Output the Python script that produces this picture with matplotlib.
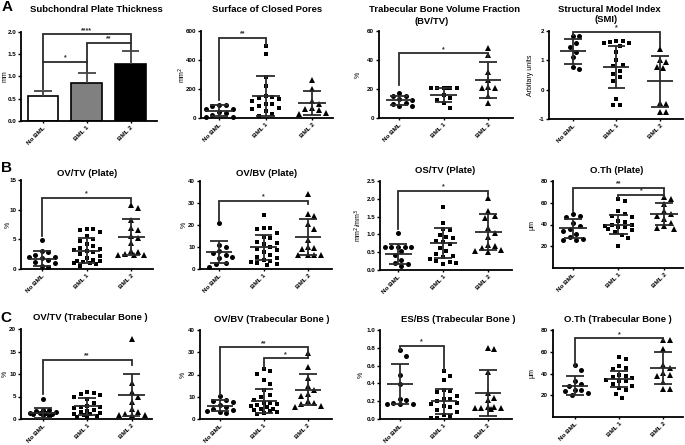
import numpy as np
import matplotlib.pyplot as plt

plt.rcParams['font.family'] = ['Liberation Sans', 'DejaVu Sans']

groups = ['No BML', 'BML 1', 'BML 2']

# A: subchondral plate thickness, bars (mean + SD)
thick_mean = [0.57, 0.85, 1.27]
thick_sd = [0.10, 0.22, 0.30]

# surface of closed pores (mm2)
pores_no = [90, 88, 85, 65, 60, 40, 35, 20, 10, 5]
pores_b1 = [495, 440, 280, 220, 150, 145, 140, 130, 120, 100, 95, 85, 70, 60, 45, 30, 15]
pores_b2 = [265, 200, 115, 100, 70, 60, 55, 35, 30]
pores_mean = [50, 152, 105]
pores_sd = [37, 139, 84]

# BV/TV (%)
bvtv_no = [17.5, 15.5, 15, 13, 12.5, 10.5, 9.5, 8, 8]
bvtv_b1 = [21, 21, 21, 21, 21, 20.5, 16, 14, 12.5, 10.5, 7]
bvtv_b2 = [48.5, 43.5, 31.5, 26, 21.5, 21, 20.5, 15, 10.5]
bvtv_mean = [12.2, 15.9, 26.3]
bvtv_sd = [3.3, 4.9, 12.6]

# SMI
smi_no = [1.82, 1.82, 1.6, 1.45, 1.3, 1.1, 0.78, 0.7]
smi_b1 = [1.66, 1.66, 1.62, 1.6, 1.58, 1.5, 1.3, 1.02, 0.85, 0.8, 0.65, 0.55, 0.42, 0.3,
          -0.33, -0.53, -0.53]
smi_b2 = [1.4, 1.0, 0.96, 0.78, 0.75, -0.45, -0.5, -0.75, -0.75]
smi_mean = [1.31, 0.78, 0.28]
smi_sd = [0.42, 0.71, 0.86]

# B: OV/TV plate
ovtv_p_no = [4.9, 3.0, 2.9, 2.1, 2.0, 1.8, 1.6, 1.2, 1.0, 0.5, 0.4, 2.4]
ovtv_p_b1 = [6.8, 6.7, 6.5, 6.2, 5.5, 5.0, 4.8, 4.2, 3.8, 3.5, 3.3, 3.2, 3.0, 2.8, 2.5,
             2.2, 1.8, 1.6, 1.4, 1.3, 1.2, 1.0, 1.0, 0.8, 0.5]
ovtv_p_b2 = [10.8, 10.3, 8.3, 6.9, 6.6, 5.6, 5.3, 4.4, 3.0, 2.8, 2.5, 2.4, 2.4, 2.3]
ovtv_p_mean = [1.7, 3.1, 5.4]
ovtv_p_sd = [1.25, 2.05, 3.05]

# OV/BV plate
ovbv_p_no = [20.9, 11.0, 10.2, 8.0, 7.5, 6.4, 5.6, 4.9, 2.6, 2.1, 1.1]
ovbv_p_b1 = [24.4, 18.8, 18.6, 18.4, 16.3, 14.4, 14.0, 12.5, 11.8, 11.2, 9.8, 9.0, 8.5,
             7.9, 6.5, 5.5, 5.0, 4.1, 3.5, 3.0, 2.6, 2.1, 2.0]
ovbv_p_b2 = [34.0, 25.0, 24.0, 20.5, 18.0, 13.3, 9.8, 9.5, 9.2, 6.5, 6.4, 6.3, 6.2]
ovbv_p_mean = [7.6, 9.8, 14.7]
ovbv_p_sd = [5.0, 5.6, 8.25]

# OS/TV plate
ostv_no = [1.04, 0.66, 0.65, 0.65, 0.64, 0.64, 0.53, 0.43, 0.29, 0.2, 0.17, 0.1]
ostv_b1 = [1.78, 1.33, 1.14, 1.12, 0.98, 0.94, 0.9, 0.82, 0.78, 0.72, 0.62, 0.53, 0.45,
           0.4, 0.37, 0.3, 0.25, 0.23, 0.2, 0.16]
ostv_b2 = [2.03, 1.65, 1.52, 1.47, 1.18, 1.04, 0.92, 0.71, 0.67, 0.62, 0.57, 0.53, 0.51]
ostv_mean = [0.45, 0.77, 1.07]
ostv_sd = [0.28, 0.42, 0.5]

# O.Th plate (um)
oth_p_no = [49.5, 48, 46.5, 41, 38.8, 35.8, 34.3, 31.2, 28.8, 26.6, 25.7, 25.7]
oth_p_b1 = [63, 61.7, 52, 50, 48, 46.5, 43.4, 42, 40, 39.8, 39, 38, 37.5, 35.8, 34.5,
            32.7, 30.6, 28, 20.5]
oth_p_b2 = [65.4, 63, 59, 52.6, 49.5, 48, 45, 41, 38.8, 36.4, 35.5]
oth_p_mean = [36.4, 39.8, 49.5]
oth_p_sd = [8.7, 8.7, 10.2]

# C: OV/TV trabecular bone
ovtv_t_no = [4.5, 1.9, 1.9, 1.8, 1.6, 1.4, 1.3, 1.3, 1.2, 1.1, 0.8, 0.6]
ovtv_t_b1 = [6.0, 5.8, 5.6, 5.3, 4.9, 4.5, 3.6, 3.0, 2.7, 2.6, 2.4, 1.9, 1.8, 1.6, 1.4,
             1.2, 1.1, 0.9, 0.6, 0.5, 0.4]
ovtv_t_b2 = [17.7, 7.9, 6.0, 4.9, 3.8, 2.3, 1.6, 1.2, 1.0, 0.8, 0.8]
ovtv_t_mean = [1.4, 2.8, 5.35]
ovtv_t_sd = [1.15, 1.85, 4.6]

# OV/BV trabecular bone
ovbv_t_no = [10.2, 8.4, 8.1, 7.7, 6.2, 5.4, 4.7, 4.0, 3.6, 3.2, 2.7]
ovbv_t_b1 = [22.3, 21.7, 20.2, 17.4, 15.6, 12.9, 10.7, 10.0, 8.4, 7.2, 7.0, 6.6, 6.2,
             5.8, 5.4, 4.7, 4.3, 4.0, 3.6, 3.2, 2.7, 2.4]
ovbv_t_b2 = [29.8, 23.5, 18.6, 14.7, 12.9, 11.4, 10.2, 8.1, 7.2, 6.6, 5.7, 5.4]
ovbv_t_mean = [5.9, 8.2, 13.2]
ovbv_t_sd = [2.5, 5.3, 7.0]

# ES/BS trabecular bone
esbs_no = [0.77, 0.71, 0.49, 0.39, 0.23, 0.21, 0.18, 0.17, 0.165, 0.165]
esbs_b1 = [0.54, 0.48, 0.44, 0.33, 0.32, 0.30, 0.26, 0.23, 0.22, 0.20, 0.18, 0.165, 0.15,
           0.135, 0.10, 0.08, 0.05, 0.03, 0.015, 0.015]
esbs_b2 = [0.80, 0.79, 0.53, 0.29, 0.24, 0.21, 0.135, 0.13, 0.12, 0.12, 0.12, 0.11]
esbs_mean = [0.39, 0.2, 0.29]
esbs_sd = [0.225, 0.14, 0.26]

# O.Th trabecular bone (um)
oth_t_no = [48, 43.4, 32.7, 30.6, 28.8, 25.1, 24.5, 23.6, 22, 20.5]
oth_t_b1 = [55, 53.2, 46.5, 45, 44, 38.8, 37.3, 36.5, 35.8, 34.3, 33, 32.7, 30.6, 28.2,
            27, 25.1, 21.5, 17.5]
oth_t_b2 = [70.9, 70.9, 62.3, 48, 45, 40.4, 38.8, 37.3, 31.8, 25.7, 25.7]
oth_t_mean = [28.8, 34.9, 45.0]
oth_t_sd = [8.85, 7.65, 14.35]

# significance brackets: (label, group a, group b, height, leg end a, leg end b)
thick_sig = [('*', 0, 1, 1.33, 0.72, 1.1), ('**', 1, 2, 1.75, 1.33, 1.6),
             ('****', 0, 2, 1.95, 1.33, 1.75)]
pores_sig = [('**', 0, 1, 555, 125, 505)]
bvtv_sig = [('*', 0, 2, 44.6, 23, 42)]
smi_sig = [('*', 0, 2, 1.98, 1.88, 1.45)]
ovtv_p_sig = [('*', 0, 2, 12.0, 5.5, 11.3)]
ovbv_p_sig = [('*', 0, 2, 31.1, 22, 29.6)]
ostv_sig = [('*', 0, 2, 2.22, 1.14, 2.1)]
oth_p_sig = [('**', 0, 2, 73.9, 52.6, 65.4), ('*', 1, 2, 67.2, 64.8, 67.2)]
ovtv_t_sig = [('**', 0, 2, 13.2, 5.6, 12.0)]
ovbv_t_sig = [('**', 0, 2, 32.2, 10.7, 27.2), ('*', 1, 2, 27.2, 22.7, 27.2)]
esbs_sig = [('*', 0, 1, 0.82, 0.78, 0.55)]
oth_t_sig = [('*', 0, 2, 72.4, 46.5, 70.9)]

W, H = 685, 445
fig = plt.figure(figsize=(W / 100, H / 100), dpi=100)
LC = '#2b2b2b'


def add_axes(l, r, t, b):
    return fig.add_axes([l / W, 1 - b / H, (r - l) / W, (b - t) / H])


def style(ax, xlim, ylim, yticks, fmt, ylab, labx):
    ax.set_xlim(*xlim)
    ax.set_ylim(*ylim)
    ax.set_yticks(yticks)
    ax.set_yticklabels([fmt.format(v) for v in yticks], fontweight='bold')
    ax.set_xticks([0, 1, 2])
    ax.set_xticklabels(groups, rotation=45, ha='right', rotation_mode='anchor',
                       fontweight='bold', fontsize=4.6)
    for s in ['top', 'right']:
        ax.spines[s].set_visible(False)
    for s in ['left', 'bottom']:
        ax.spines[s].set_linewidth(1.3)
    ax.tick_params(axis='y', direction='out', length=2.5, width=1.0, labelsize=4.5, pad=1)
    ax.tick_params(axis='x', direction='out', length=1.5, width=1.0, pad=1.5)
    ax.set_ylabel(ylab, fontsize=5)
    ax.yaxis.label.set_va('center')
    ax.yaxis.set_label_coords(-labx, 0.5)


def swarm(vals, ylim, d=6.5, maxw=0.34):
    # spread points sideways so they don't sit on top of each other,
    # but keep them inside +-maxw of the column centre
    sy = 88.0 / (ylim[1] - ylim[0])
    sx = 44.5
    lim = maxw * sx
    step = d * 0.5
    cands = [0.0]
    k = 1
    while k * step <= lim:
        cands += [k * step, -k * step]
        k += 1
    order = np.argsort(vals)[::-1]
    placed = []
    offs = np.zeros(len(vals))
    for i in order:
        y = vals[i] * sy
        best, best_gap = 0.0, -1
        for c in cands:
            gap = min([np.hypot(c - px, y - py) for px, py in placed] + [99])
            if gap >= d:
                best = c
                break
            if gap > best_gap:
                best, best_gap = c, gap
        placed.append((best, y))
        offs[i] = best / sx
    return offs


def brackets(ax, sig):
    for lab, a, b, y, la, lb in sig:
        ax.plot([a, a, b, b], [la, y, y, lb], color=LC, lw=1.3, clip_on=False,
                solid_joinstyle='miter')
        ax.annotate(lab, ((a + b) / 2, y), xytext=(0, 0.3), textcoords='offset points',
                    ha='center', va='bottom', fontsize=5, fontweight='bold', color=LC)


markers = [('o', 3.6), ('s', 3.3), ('^', 3.8)]


def scatter_panel(rect, xlim, ylim, yticks, fmt, ylab, labx, pts, mean, sd, sig):
    ax = add_axes(*rect)
    for g, vals in enumerate(pts):
        vals = np.array(vals, float)
        off = swarm(vals, ylim)
        m, ms = markers[g]
        ax.plot(g + off, vals, m, color='black', ms=ms, mew=0, clip_on=False, zorder=2)
        ax.hlines(mean[g], g - 0.3, g + 0.3, color=LC, lw=1.3, zorder=3)
        ax.vlines(g, mean[g] - sd[g], mean[g] + sd[g], color=LC, lw=1.3, zorder=3)
        ax.hlines([mean[g] - sd[g], mean[g] + sd[g]], g - 0.2, g + 0.2, color=LC, lw=1.3,
                  zorder=3)
    brackets(ax, sig)
    style(ax, xlim, ylim, yticks, fmt, ylab, labx)
    return ax


# panel A1: bars
ax = add_axes(21, 157, 32, 121)
ax.bar([0, 1, 2], thick_mean, width=0.7, color=['white', '#808080', 'black'],
       edgecolor='black', lw=1.2, zorder=2)
for g in range(3):
    top = thick_mean[g] + thick_sd[g]
    ax.vlines(g, thick_mean[g], top, color='#444444', lw=1.3, zorder=3)
    ax.hlines(top, g - 0.2, g + 0.2, color='#444444', lw=1.3, zorder=3)
brackets(ax, thick_sig)
style(ax, (-0.5, 2.6), (0, 2.0), [0, 0.5, 1.0, 1.5, 2.0], '{:.1f}', 'mm', 0.12)

scatter_panel((201, 333, 31, 118), (-0.39, 2.45), (0, 600), [0, 200, 400, 600], '{:.0f}',
              'mm$^2$', 0.14, (pores_no, pores_b1, pores_b2), pores_mean, pores_sd, pores_sig)
scatter_panel((379, 513, 31, 118), (-0.45, 2.56), (0, 60), [0, 20, 40, 60], '{:.0f}',
              '%', 0.155, (bvtv_no, bvtv_b1, bvtv_b2), bvtv_mean, bvtv_sd, bvtv_sig)
scatter_panel((549, 683, 31, 119), (-0.55, 2.53), (-1, 2), [-1, 0, 1, 2], '{:.0f}',
              'Arbitary units', 0.14, (smi_no, smi_b1, smi_b2), smi_mean, smi_sd, smi_sig)

scatter_panel((21, 153, 180, 269), (-0.47, 2.49), (0, 15), [0, 5, 10, 15], '{:.0f}',
              '%', 0.1, (ovtv_p_no, ovtv_p_b1, ovtv_p_b2), ovtv_p_mean, ovtv_p_sd, ovtv_p_sig)
scatter_panel((200, 332, 181, 269), (-0.43, 2.54), (0, 40), [0, 10, 20, 30, 40], '{:.0f}',
              '%', 0.12, (ovbv_p_no, ovbv_p_b1, ovbv_p_b2), ovbv_p_mean, ovbv_p_sd, ovbv_p_sig)
scatter_panel((380, 512, 181, 270), (-0.4, 2.53), (0, 2.5), [0, 0.5, 1.0, 1.5, 2.0, 2.5],
              '{:.1f}', 'mm$^2$/mm$^3$', 0.165, (ostv_no, ostv_b1, ostv_b2), ostv_mean,
              ostv_sd, ostv_sig)
scatter_panel((553, 683, 181, 268), (-0.44, 2.42), (0, 80), [20, 40, 60, 80], '{:.0f}',
              'µm', 0.165, (oth_p_no, oth_p_b1, oth_p_b2), oth_p_mean, oth_p_sd, oth_p_sig)

scatter_panel((21, 152, 329, 419), (-0.49, 2.46), (0, 20), [0, 5, 10, 15, 20], '{:.0f}',
              '%', 0.12, (ovtv_t_no, ovtv_t_b1, ovtv_t_b2), ovtv_t_mean, ovtv_t_sd, ovtv_t_sig)
scatter_panel((200, 332, 330, 419), (-0.45, 2.55), (0, 40), [0, 10, 20, 30, 40], '{:.0f}',
              '%', 0.125, (ovbv_t_no, ovbv_t_b1, ovbv_t_b2), ovbv_t_mean, ovbv_t_sd, ovbv_t_sig)
scatter_panel((380, 512, 330, 419), (-0.45, 2.55), (0, 1.0), [0, 0.2, 0.4, 0.6, 0.8, 1.0],
              '{:.1f}', '%', 0.14, (esbs_no, esbs_b1, esbs_b2), esbs_mean, esbs_sd, esbs_sig)
scatter_panel((553, 683, 330, 417), (-0.5, 2.45), (0, 80), [20, 40, 60, 80], '{:.0f}',
              'µm', 0.165, (oth_t_no, oth_t_b1, oth_t_b2), oth_t_mean, oth_t_sd, oth_t_sig)

titles = [
    ('Subchondral Plate Thickness', 96, 10), ('Surface of Closed Pores', 267, 10),
    ('Trabecular Bone Volume Fraction', 445, 10), ('(BV/TV)', 432, 21),
    ('Structural Model Index', 609, 9), ('(SMI)', 606, 20),
    ('OV/TV (Plate)', 87, 173), ('OV/BV (Plate)', 267, 173),
    ('OS/TV (Plate)', 445, 171), ('O.Th (Plate)', 617, 171),
    ('OV/TV (Trabecular Bone )', 90, 317), ('OV/BV (Trabecular Bone )', 272, 319),
    ('ES/BS (Trabecular Bone )', 458, 319), ('O.Th (Trabecular Bone )', 618, 319),
]
for txt, x, y in titles:
    fig.text(x / W, 1 - y / H, txt, ha='center', va='center', fontsize=6.8,
             fontweight='bold')

for lab, x, y in [('A', 7, 7), ('B', 6, 168), ('C', 6, 318)]:
    fig.text(x / W, 1 - y / H, lab, ha='center', va='center', fontsize=11,
             fontweight='bold')

fig.savefig('out.png', dpi=100, facecolor='white')
